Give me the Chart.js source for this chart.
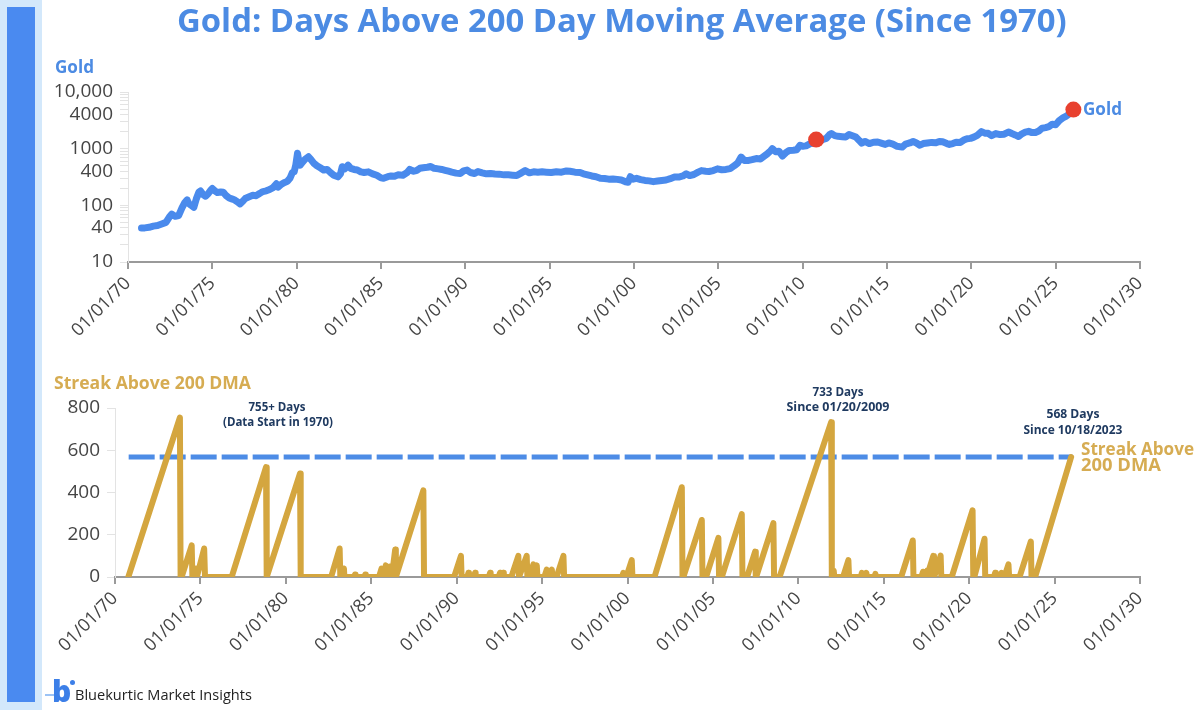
<!DOCTYPE html>
<html><head><meta charset="utf-8">
<script src="https://cdn.jsdelivr.net/npm/chart.js@4.4.1/dist/chart.umd.min.js"></script>
<style>
html,body{margin:0;padding:0;background:#fff;width:1200px;height:710px;overflow:hidden;font-family:"Open Sans",sans-serif;}
#strip{position:absolute;left:0;top:0;width:42px;height:710px;background:#D3E8FB;}
#bar{position:absolute;left:7px;top:7px;width:28px;height:695px;background:#4A8AF0;}
.t{position:absolute;white-space:nowrap;line-height:1;font-family:"Open Sans",sans-serif;}
canvas{position:absolute;left:0;}
#c1{top:0;}
#c2{top:370px;}
#logoB{position:absolute;left:52px;top:676px;font-family:"Open Sans",sans-serif;font-weight:800;font-size:30px;line-height:1;color:#3C7FE8;}
#logoDot{position:absolute;left:70px;top:680px;width:5px;height:5px;border-radius:50%;background:#3C7FE8;}
#logoDash{position:absolute;left:45px;top:694px;width:9px;height:2px;background:#9CC3F5;}
</style>
</head><body>
<div id="strip"></div><div id="bar"></div>
<canvas id="c1" width="1200" height="370"></canvas>
<canvas id="c2" width="1200" height="340"></canvas>
<div id="logoB">b</div><div id="logoDot"></div><div id="logoDash"></div>
<script>
// ---------- DATA ----------
const xTickYears = [1970,1975,1980,1985,1990,1995,2000,2005,2010,2015,2020,2025,2030];

const goldYears = [1970.80,1971.00,1971.25,1971.50,1971.75,1972.00,1972.25,1972.45,1972.60,1972.80,1973.00,1973.20,1973.35,1973.50,1973.60,1973.75,1973.90,1974.05,1974.20,1974.30,1974.45,1974.60,1974.75,1974.90,1975.00,1975.15,1975.30,1975.50,1975.65,1975.80,1976.00,1976.15,1976.30,1976.50,1976.65,1976.80,1976.95,1977.15,1977.40,1977.60,1977.80,1978.00,1978.20,1978.40,1978.60,1978.80,1978.90,1979.05,1979.25,1979.45,1979.60,1979.75,1979.85,1979.95,1980.05,1980.12,1980.20,1980.35,1980.50,1980.70,1980.85,1981.00,1981.20,1981.40,1981.60,1981.80,1982.00,1982.20,1982.45,1982.60,1982.70,1982.85,1983.05,1983.20,1983.40,1983.60,1983.80,1984.00,1984.25,1984.50,1984.75,1985.00,1985.15,1985.40,1985.60,1985.80,1986.00,1986.30,1986.55,1986.70,1986.90,1987.10,1987.30,1987.50,1987.75,1987.95,1988.15,1988.40,1988.60,1988.80,1989.00,1989.20,1989.45,1989.70,1989.90,1990.10,1990.30,1990.55,1990.75,1991.00,1991.25,1991.50,1991.75,1992.00,1992.30,1992.55,1992.80,1993.05,1993.30,1993.55,1993.80,1994.05,1994.30,1994.55,1994.80,1995.10,1995.40,1995.70,1996.00,1996.20,1996.50,1996.80,1997.00,1997.25,1997.50,1997.75,1998.00,1998.25,1998.50,1998.75,1999.00,1999.25,1999.50,1999.65,1999.78,1999.95,2000.15,2000.40,2000.65,2000.90,2001.15,2001.40,2001.65,2001.90,2002.15,2002.40,2002.65,2002.90,2003.10,2003.30,2003.55,2003.80,2004.00,2004.25,2004.45,2004.70,2004.95,2005.20,2005.45,2005.70,2005.95,2006.15,2006.35,2006.55,2006.80,2007.00,2007.25,2007.50,2007.70,2007.90,2008.10,2008.20,2008.40,2008.60,2008.80,2009.00,2009.20,2009.45,2009.65,2009.85,2010.00,2010.20,2010.45,2010.65,2010.80,2011.00,2011.20,2011.40,2011.60,2011.70,2011.90,2012.10,2012.35,2012.55,2012.75,2012.95,2013.15,2013.35,2013.50,2013.70,2013.95,2014.20,2014.45,2014.70,2014.90,2015.10,2015.35,2015.60,2015.90,2016.10,2016.35,2016.55,2016.75,2016.95,2017.15,2017.40,2017.65,2017.90,2018.10,2018.30,2018.55,2018.70,2018.90,2019.10,2019.35,2019.55,2019.75,2019.95,2020.15,2020.35,2020.60,2020.80,2021.00,2021.20,2021.45,2021.70,2021.95,2022.20,2022.40,2022.60,2022.80,2023.00,2023.20,2023.40,2023.60,2023.80,2024.00,2024.20,2024.40,2024.60,2024.80,2025.00,2025.20,2025.40,2025.60,2025.80];
const goldPrices = [40,40,41,43,44,47,50,62,70,64,66,90,110,125,108,100,92,130,170,180,155,145,160,185,198,180,168,172,170,150,135,130,125,115,106,118,132,140,150,148,162,175,180,190,205,240,210,230,250,265,300,380,390,520,830,620,510,580,650,720,640,560,500,460,420,430,380,340,318,360,480,440,510,450,430,420,390,380,390,360,340,305,300,320,330,325,345,340,380,430,400,410,450,460,470,485,450,440,430,415,400,385,370,365,405,420,380,365,395,375,360,365,358,355,345,345,340,335,370,410,375,390,385,390,385,380,390,385,405,400,385,380,360,345,330,320,300,298,290,292,287,280,260,255,320,290,300,285,275,270,262,268,275,280,295,315,315,330,360,335,350,385,410,400,395,410,440,425,430,445,500,560,710,620,620,640,670,660,730,810,920,1000,880,900,740,850,930,940,960,1150,1100,1120,1230,1250,1380,1360,1450,1520,1780,1850,1700,1650,1620,1600,1780,1690,1600,1400,1250,1340,1230,1300,1310,1240,1190,1260,1200,1100,1065,1200,1260,1340,1260,1150,1230,1260,1290,1270,1340,1320,1230,1190,1230,1300,1290,1420,1500,1520,1600,1720,2000,1880,1870,1700,1850,1770,1800,1970,1850,1750,1640,1830,1960,2020,1920,1930,2050,2300,2350,2450,2700,2650,3100,3450,3700,4100];

const markerYears = [2010.80, 2026.05];
const markerPrices = [1445, 4900];

const goldTickValues = [10,40,100,400,1000,4000,10000];
const goldTickLabels = ['10','40','100','400','1000','4000','10,000'];

const streakYears = [1970.78,1973.80,1973.84,1973.90,1974.49,1974.53,1974.60,1974.75,1974.78,1974.80,1975.22,1975.27,1976.83,1978.84,1978.88,1980.83,1980.87,1982.65,1983.15,1983.19,1983.30,1983.40,1983.43,1984.00,1984.05,1984.08,1984.60,1984.65,1984.68,1985.45,1985.60,1985.64,1985.70,1985.85,1985.89,1985.95,1986.10,1986.14,1986.20,1986.40,1986.44,1988.05,1988.09,1989.85,1990.25,1990.29,1990.62,1990.69,1990.72,1991.00,1991.08,1991.11,1991.88,1991.96,1991.99,1992.45,1992.54,1992.57,1992.65,1992.73,1992.76,1993.20,1993.61,1993.65,1993.70,1994.10,1994.14,1994.25,1994.49,1994.53,1994.55,1994.69,1994.73,1995.13,1995.27,1995.31,1995.43,1995.57,1995.61,1995.85,1996.25,1996.29,1999.68,1999.76,1999.80,1999.93,2000.25,2000.29,2001.58,2003.18,2003.22,2003.27,2004.35,2004.39,2004.60,2005.32,2005.36,2005.52,2006.69,2006.73,2007.00,2007.47,2007.51,2007.53,2008.54,2008.58,2008.90,2011.92,2011.96,2012.00,2012.07,2012.11,2012.62,2012.93,2012.97,2013.65,2013.72,2013.76,2013.90,2013.98,2014.02,2014.45,2014.51,2014.55,2016.02,2016.70,2016.74,2017.20,2017.30,2017.34,2017.45,2017.55,2017.59,2017.52,2017.90,2017.94,2017.95,2018.33,2018.37,2018.98,2020.20,2020.24,2020.30,2020.90,2020.94,2021.45,2021.52,2021.56,2021.82,2021.90,2021.94,2022.06,2022.30,2022.34,2022.95,2023.61,2023.65,2023.86,2025.97];
const streakDays = [0,755,0,0,150,0,0,40,0,0,135,0,0,520,0,490,0,0,135,0,0,40,0,0,12,0,0,12,0,0,40,0,0,55,0,0,50,0,0,130,0,410,0,0,100,0,0,20,0,0,20,0,0,20,0,0,20,0,0,20,0,0,100,0,0,100,0,0,60,0,0,55,0,0,35,0,0,35,0,0,100,0,0,20,0,0,80,0,0,425,0,0,270,0,0,185,0,0,298,0,0,120,0,0,255,0,0,733,0,0,30,0,0,80,0,0,20,0,0,20,0,0,15,0,0,173,0,0,25,0,0,30,0,0,100,0,0,101,0,0,316,0,0,181,0,0,20,0,0,20,0,0,60,0,0,168,0,0,568];

const currentStreak = 568;
const dmaLineYears = [1970.80, 2026.05];

const streakTicks = [0,200,400,600,800];

// ---------- HELPERS ----------
const fmtDate = v => '01/01/' + String(Math.round(v) % 100).padStart(2,'0');
const tickFont = {family:'Open Sans', size:18};
const TICK_COLOR = '#454545';
const BLUE = '#4A8AEC';
const GOLD = '#D4A63F';

const logTicks = [];
for (let e = 1; e <= 4; e++) for (let m = 1; m <= 9; m++) { const v = m * Math.pow(10, e); if (v <= 10000) logTicks.push(v); }

const xAxis = (h) => ({
  type:'linear', min:1970, max:2030,
  afterBuildTicks: s => { s.ticks = xTickYears.map(v => ({value:v})); },
  afterFit: s => { s.height = h; },
  ticks:{autoSkip:false, minRotation:45, maxRotation:45, callback:v => fmtDate(v), color:TICK_COLOR, font:tickFont, padding:4},
  grid:{drawOnChartArea:false, drawTicks:true, tickLength:7, color:'#9a9a9a', lineWidth:2},
  border:{display:true, color:'#9a9a9a', width:2}
});

Chart.defaults.font.family = 'Open Sans';

new Chart(document.getElementById('c1'), {
  type:'line',
  data:{datasets:[
    {type:'scatter', data: markerYears.map((x,i)=>({x, y:markerPrices[i]})), pointRadius:8, pointBackgroundColor:'#E8412F', pointBorderWidth:0, showLine:false, order:0},
    {data: goldYears.map((x,i)=>({x, y:goldPrices[i]})), borderColor:BLUE, borderWidth:7, pointRadius:0, tension:0, order:1, borderJoinStyle:'round', borderCapStyle:'round'}
  ]},
  options:{
    responsive:false, animation:false, events:[],
    layout:{padding:{top:92, right:60, left:0, bottom:0}},
    plugins:{legend:{display:false}, tooltip:{enabled:false}},
    scales:{
      x: xAxis(108),
      y:{type:'logarithmic', min:10, max:10000,
         afterBuildTicks: s => { s.ticks = logTicks.map(v => ({value:v})); },
         afterFit: s => { s.width = 128; },
         ticks:{autoSkip:false, color:TICK_COLOR, font:{family:'Open Sans', size:19}, padding:7,
                callback: v => { const i = goldTickValues.indexOf(Math.round(v)); return i >= 0 ? goldTickLabels[i] : ''; }},
         grid:{drawOnChartArea:false, tickLength:8, color:'#e3e3e3'},
         border:{display:true, color:'#e3e3e3', width:1}}
    }
  }
});

new Chart(document.getElementById('c2'), {
  type:'line',
  data:{datasets:[
    {data: streakYears.map((x,i)=>({x, y:streakDays[i]})), borderColor:GOLD, borderWidth:6, pointRadius:0, tension:0, order:0, borderJoinStyle:'round', borderCapStyle:'round'},
    {data: dmaLineYears.map(x=>({x, y:currentStreak})), borderColor:'#4D8CE6', borderWidth:5, borderDash:[26,5], pointRadius:0, order:1}
  ]},
  options:{
    responsive:false, animation:false, events:[],
    layout:{padding:{top:38, right:60, left:0, bottom:0}},
    plugins:{legend:{display:false}, tooltip:{enabled:false}},
    scales:{
      x: xAxis(133),
      y:{type:'linear', min:0, max:800,
         afterBuildTicks: s => { s.ticks = streakTicks.map(v => ({value:v})); },
         afterFit: s => { s.width = 115; },
         ticks:{autoSkip:false, color:TICK_COLOR, font:{family:'Open Sans', size:19}, padding:7},
         grid:{drawOnChartArea:false, tickLength:8, color:'#e3e3e3'},
         border:{display:true, color:'#e3e3e3', width:1}}
    }
  }
});

// ---------- TEXT ----------
const mctx = document.createElement('canvas').getContext('2d');
function place(text, x, cy, targetW, align, color, weight) {
  mctx.font = weight + ' 20px "Open Sans"';
  const w = mctx.measureText(text).width;
  const fs = 20 * targetW / w;
  const d = document.createElement('div');
  d.className = 't';
  d.textContent = text;
  d.style.fontSize = fs + 'px';
  d.style.fontWeight = weight;
  d.style.color = color;
  d.style.top = (cy - 0.531 * fs) + 'px';
  if (align === 'center') { d.style.left = (x - w * fs / 20 / 2) + 'px'; }
  else d.style.left = x + 'px';
  document.body.appendChild(d);
}
const NAVY = '#1F3A60';
const LBLUE = '#4C8BE3';
const LGOLD = '#D6AC52';
place('Gold: Days Above 200 Day Moving Average (Since 1970)', 622, 21, 890, 'center', LBLUE, 700);
place('Gold', 55, 67.5, 39, 'left', LBLUE, 700);
place('Streak Above 200 DMA', 54, 383, 197, 'left', LGOLD, 700);
place('755+ Days', 277, 407, 57, 'center', NAVY, 700);
place('(Data Start in 1970)', 278, 422, 110, 'center', NAVY, 700);
place('733 Days', 838, 392, 51, 'center', NAVY, 700);
place('Since 01/20/2009', 838, 408, 103, 'center', NAVY, 700);
place('568 Days', 1073, 414, 53, 'center', NAVY, 700);
place('Since 10/18/2023', 1073, 430, 99, 'center', NAVY, 700);
place('Streak Above', 1081, 449, 113, 'left', LGOLD, 700);
place('200 DMA', 1081, 465, 80, 'left', LGOLD, 700);
place('Gold', 1083, 109, 39, 'left', LBLUE, 700);
place('Bluekurtic Market Insights', 75, 695, 177, 'left', '#222', 400);
</script>
</body></html>
